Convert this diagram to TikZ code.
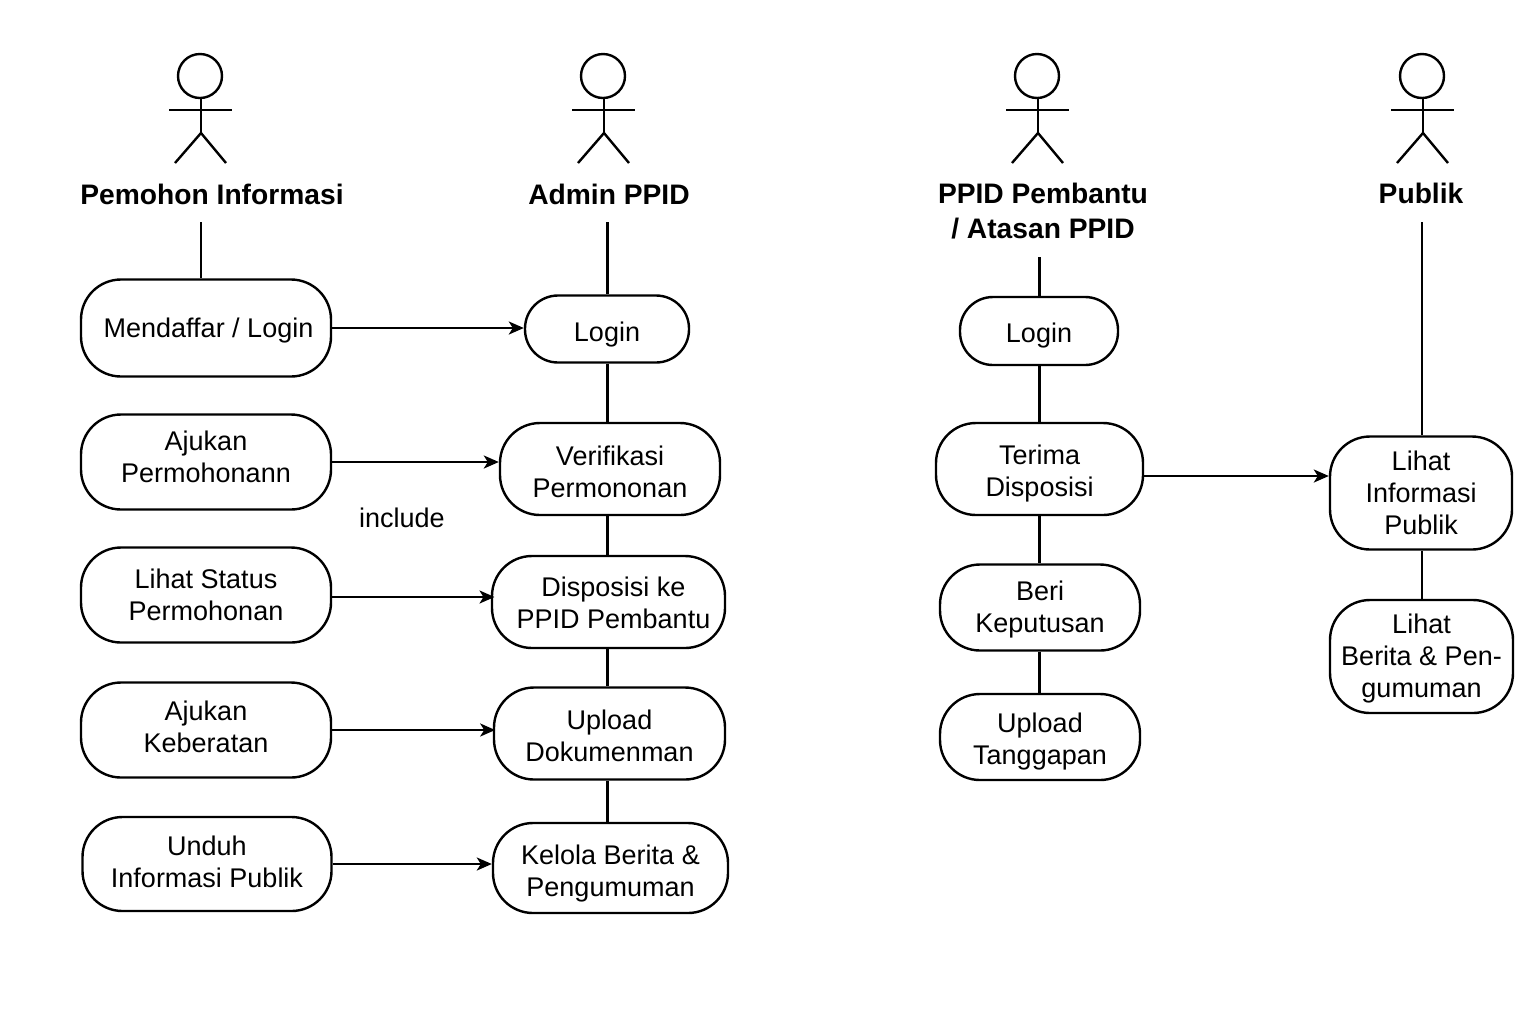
\documentclass[tikz,border=0pt]{standalone}
\usepackage{fontspec}
\setmainfont{Liberation Sans}
\usetikzlibrary{positioning}
\usetikzlibrary{arrows.meta}
\begin{document}
\begin{tikzpicture}[
    x=0.5pt, y=-0.5pt,
    case/.style = {draw, line width=1.2pt, rounded corners=20pt, align=center, font=\fontsize{13.5}{16}\selectfont, inner sep=0pt},% use case box
    small/.style = {rounded corners=16.5pt},% login boxes
    role/.style = {align=center, font=\fontsize{14.1}{17.5}\selectfont\bfseries, inner sep=0pt},% actor name
    plain/.style = {line width=1.2pt},
    flow/.style = {line width=1.2pt, -{Stealth[length=7.5pt,width=6.5pt,inset=2pt]}},
    actor/.pic = {
        \node (-head) [draw, circle, line width=1.2pt, minimum size=22pt, inner sep=0pt] at (0,0) {};
        \draw[plain] (1,22.5) -- (1,57) coordinate (-hip);
        \draw[plain] (-31,34) -- (32,34);
        \draw[plain] (-hip) -- ++(-26,30);
        \draw[plain] (-hip) -- ++(25,30);
    }
    ]
    \useasboundingbox (0,0) rectangle (1536,1024);
    % actors
    \pic (a1) at (200,76) {actor};
    \pic (a2) at (603,76) {actor};
    \pic (a3) at (1037,76) {actor};
    \pic (a4) at (1422,76) {actor};
    \node (pemohon) [role] at (212,194) {Pemohon Informasi};
    \node (admin) [role] at (609,194) {Admin PPID};
    \node (pembantu) [role] at (1043,211) {PPID Pembantu\\/ Atasan PPID};
    \node (publik) [role] at (1421,193) {Publik};
    \coordinate (pemohontail) at (201,222);
    \coordinate (admintail) at (607.5,222);
    \coordinate (pembantutail) at (1039.5,257);
    \coordinate (publiktail) at (1422,222);
    % pemohon column
    \node (daftar) [case, text height=11.8pt, minimum width=125pt, minimum height=48.5pt] at (206,328) {\hspace*{2.5pt}Mendaffar / Login};
    \node (ajukan) [case, text height=20.3pt, minimum width=125pt, minimum height=47.5pt] at (206,462) {Ajukan\\Permohonann};
    \node (status) [case, minimum width=125pt, minimum height=47.5pt] at (206,595) {Lihat Status\\Permohonan};
    \node (keberatan) [case, text height=22.8pt, minimum width=125pt, minimum height=47.5pt] at (206,730) {Ajukan\\Keberatan};
    \node (unduh) [case, text height=23.8pt, minimum width=124.5pt, minimum height=47pt] at (207,864) {Unduh\\Informasi Publik};
    % admin column
    \node (loginadm) [case, small, text height=14.8pt, minimum width=82pt, minimum height=33.5pt] at (607,329) {Login};
    \node (verif) [case, text height=28.8pt, minimum width=110pt, minimum height=46pt] at (610,469) {Verifikasi\\Permononan};
    \node (dispo) [case, text height=26.3pt, minimum width=116.5pt, minimum height=46pt] at (608.5,602) {\hspace*{5pt}Disposisi ke\\\hspace*{5pt}PPID Pembantu};
    \node (upload) [case, text height=27.8pt, minimum width=115.5pt, minimum height=46pt] at (609.5,733.5) {Upload\\Dokumenman};
    \node (kelola) [case, text height=30.8pt, minimum width=117.5pt, minimum height=45pt] at (610.5,868) {Kelola Berita \&\\Pengumuman};
    % pembantu column
    \node (loginpem) [case, small, text height=13.8pt, minimum width=79pt, minimum height=34pt] at (1039,331) {Login};
    \node (terima) [case, text height=29.8pt, minimum width=103.5pt, minimum height=46pt] at (1039.5,469) {Terima\\Disposisi};
    \node (beri) [case, text height=27.8pt, minimum width=100pt, minimum height=43pt] at (1040,607.5) {Beri\\Keputusan};
    \node (tanggap) [case, text height=29.8pt, minimum width=100pt, minimum height=43pt] at (1040,737) {Upload\\Tanggapan};
    % publik column
    \node (lihatinfo) [case, text height=41.8pt, minimum width=91pt, minimum height=56.5pt] at (1421,493) {Lihat\\Informasi\\Publik};
    \node (lihatberita) [case, text height=43.8pt, minimum width=91.5pt, minimum height=56.5pt] at (1421.5,656.5) {Lihat\\Berita \& Pen-\\gumuman};
    \node (incl) [inner sep=0pt, font=\fontsize{13.5}{16}\selectfont] at (402,518) {include};
    % lines down the columns
    \draw[plain] (pemohontail) -- (pemohontail |- daftar.north);
    \draw[plain] (admintail) -- (admintail |- loginadm.north);
    \draw[plain] (pembantutail) -- (pembantutail |- loginpem.north);
    \draw[plain] (publiktail) -- (publiktail |- lihatinfo.north);
    \draw[plain] (loginadm.south -| admintail) -- (verif.north -| admintail);
    \draw[plain] (verif.south -| admintail) -- (dispo.north -| admintail);
    \draw[plain] (dispo.south -| admintail) -- (upload.north -| admintail);
    \draw[plain] (upload.south -| admintail) -- (kelola.north -| admintail);
    \draw[plain] (loginpem.south -| pembantutail) -- (terima.north -| pembantutail);
    \draw[plain] (terima.south -| pembantutail) -- (beri.north -| pembantutail);
    \draw[plain] (beri.south -| pembantutail) -- (tanggap.north -| pembantutail);
    \draw[plain] (lihatinfo.south -| publiktail) -- (lihatberita.north -| publiktail);
    % arrows between columns
    \coordinate (statusin) at (494.5,597);
    \coordinate (terimaout) at (1143,476);
    \draw[flow] (daftar.east) -- (daftar.east -| loginadm.west);
    \draw[flow] (ajukan.east) -- (ajukan.east -| verif.west);
    \draw[flow] (status.east |- statusin) -- (statusin);
    \draw[flow] (keberatan.east) -- ++(163,0);
    \draw[flow] (unduh.east) -- (unduh.east -| kelola.west);
    \draw[flow] (terimaout) -- (terimaout -| lihatinfo.west);
\end{tikzpicture}
\end{document}
